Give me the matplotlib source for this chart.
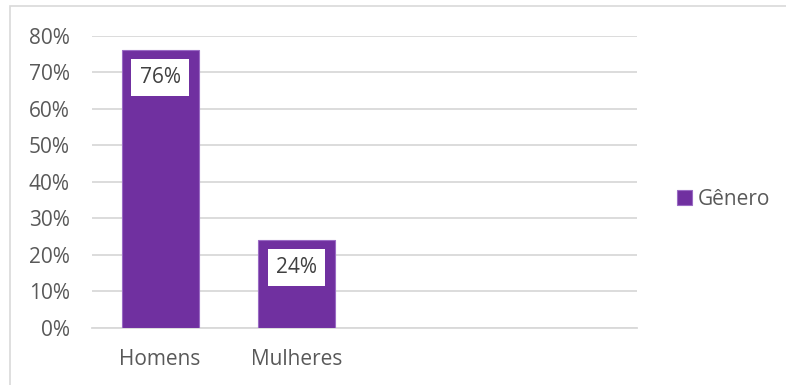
import matplotlib.pyplot as plt
from matplotlib.patches import Rectangle
from matplotlib.ticker import PercentFormatter

categories = ["Homens", "Mulheres"]
values = [0.76, 0.24]
series_name = "Gênero"
y_ticks = [0.0, 0.1, 0.2, 0.3, 0.4, 0.5, 0.6, 0.7, 0.8]

purple = "#7030A0"
grey_text = "#595959"
grid_grey = "#D9D9D9"

plt.rcParams["font.family"] = ["Open Sans", "DejaVu Sans"]
fs = 15

fig = plt.figure(figsize=(7.86, 3.85), dpi=100)
ax = fig.add_axes([92 / 786, 1 - 328 / 385, (637 - 92) / 786, (328 - 35.7) / 385])

# chart frame (left and top edges only show in the exported area)
fig.patches.append(Rectangle((10 / 786, -0.1), 1.2, 1 - 6 / 385 + 0.1,
                             transform=fig.transFigure, fill=False,
                             edgecolor=grid_grey, linewidth=1.2))

x = list(range(len(categories)))
bars = ax.bar(x, values, width=0.566, color=purple, edgecolor="#9A6BC4",
              linewidth=0.8, zorder=3, label=series_name)

for rect, v in zip(bars, values):
    ax.annotate(f"{v:.0%}", (rect.get_x() + rect.get_width() / 2, v),
                xytext=(0, -19.5), textcoords="offset points",
                ha="center", va="center", fontsize=fs, color="#404040",
                bbox=dict(boxstyle="square,pad=0.4", fc="white", ec="none"),
                zorder=4)

ax.set_xlim(-0.5, 3.5)
ax.set_ylim(0, 0.8)
ax.set_yticks(y_ticks)
ax.yaxis.set_major_formatter(PercentFormatter(1.0, decimals=0))
ax.set_xticks(x)
ax.set_xticklabels(categories)

ax.grid(axis="y", color=grid_grey, linewidth=1.3, zorder=0)
for side in ["top", "right", "left"]:
    ax.spines[side].set_visible(False)
ax.spines["bottom"].set_color(grid_grey)
ax.spines["bottom"].set_linewidth(1.3)

ax.tick_params(axis="y", length=0, pad=16, labelsize=fs, labelcolor=grey_text)
ax.tick_params(axis="x", length=0, pad=15, labelsize=fs, labelcolor=grey_text)

ax.legend(loc="center left", bbox_to_anchor=(1.055, 0.44), frameon=False,
          fontsize=fs, labelcolor=grey_text, handlelength=0.7,
          handleheight=0.7, handletextpad=0.3, borderpad=0)

fig.savefig("out.png", dpi=100)
